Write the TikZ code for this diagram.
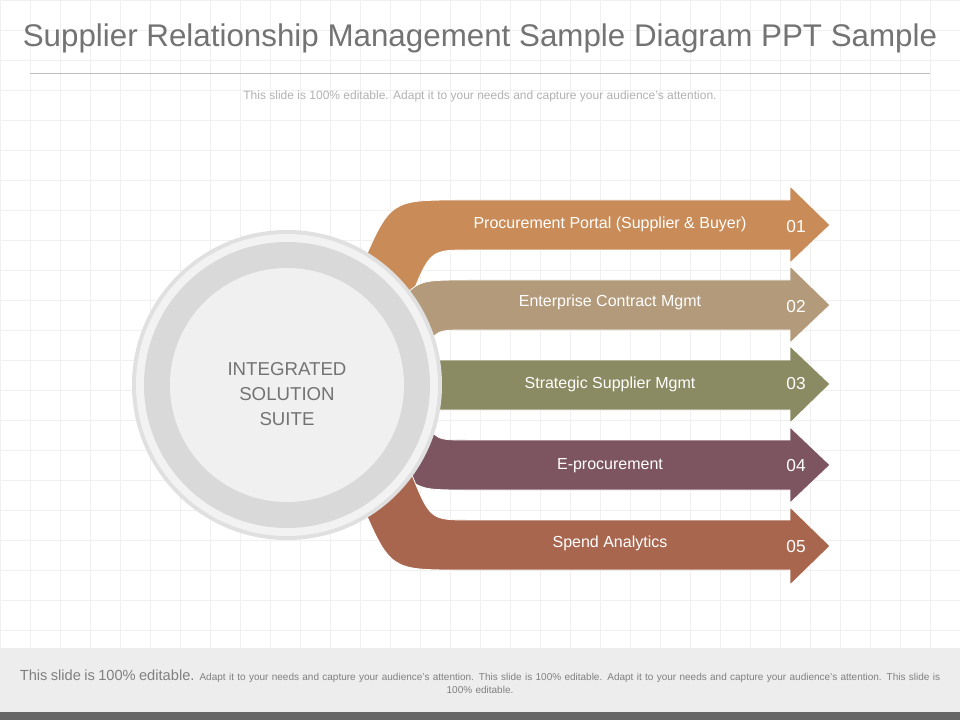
\documentclass[tikz,border=0pt]{standalone}
\usepackage{fontspec}
\setmainfont{Liberation Sans}
\usetikzlibrary{positioning}
\definecolor{bandA}{HTML}{C98B57}
\definecolor{bandB}{HTML}{B39A7A}
\definecolor{bandC}{HTML}{8B8B63}
\definecolor{bandD}{HTML}{7D5560}
\definecolor{bandE}{HTML}{A9664F}
\begin{document}
\begin{tikzpicture}[x=0.75pt,y=-0.75pt]
\tikzstyle{band} = [draw=white, line width=0.6pt]
\tikzstyle{label} = [text=white, font=\fontsize{12}{14}\selectfont]
\tikzstyle{num} = [text=white, font=\fontsize{13}{15}\selectfont]
\useasboundingbox (0,0) rectangle (960,720);
\fill[white] (0,0) rectangle (960,720);
\foreach \gx in {0,30,...,960} \draw[black!6] (\gx,0) -- (\gx,648);
\foreach \gy in {0,30,...,630} \draw[black!6] (0,\gy) -- (960,\gy);

% Heading
\node [text=black!55, font=\fontsize{23.5}{27}\selectfont] (title) at (480,38) {Supplier Relationship Management Sample Diagram PPT Sample};
\draw [black!25] (30,73) -- (930,73);
\node [text=black!30, font=\fontsize{9}{11}\selectfont] (sub) at (480,96) {This slide is 100\% editable. Adapt it to your needs and capture your audience's attention.};

% Bands
\fill[band, fill=bandA] (360,270) .. controls (390,200) .. (460,200) -- (790,200) -- (790,186) -- (830,225) -- (790,263) -- (790,250) -- (470,250) .. controls (430,250) .. (410,300) -- cycle;
\fill[band, fill=bandB] (400,300) .. controls (420,280) .. (470,280) -- (790,280) -- (790,266) -- (830,305) -- (790,343) -- (790,330) -- (470,330) .. controls (440,330) .. (430,340) -- cycle;
\fill[band, fill=bandC] (420,360) -- (790,360) -- (790,346) -- (830,384) -- (790,423) -- (790,410) -- (420,410) -- cycle;
\fill[band, fill=bandD] (430,430) .. controls (440,440) .. (470,440) -- (790,440) -- (790,427) -- (830,465) -- (790,503) -- (790,490) -- (470,490) .. controls (420,490) .. (400,470) -- cycle;
\fill[band, fill=bandE] (410,470) .. controls (430,520) .. (470,520) -- (790,520) -- (790,507) -- (830,546) -- (790,585) -- (790,570) -- (460,570) .. controls (390,570) .. (360,500) -- cycle;

% Circles
\fill[black!12] (287,385) circle (155);
\fill[black!5] (287,385) circle (151);
\fill[black!15] (287,385) circle (143);
\fill[black!6] (287,385) circle (117);
\node [text=black!55, align=center, font=\fontsize{14}{19}\selectfont] (core) at (287,394) {INTEGRATED\\SOLUTION\\SUITE};

% Labels
\node [label] (l1) at (610,224) {Procurement Portal (Supplier \& Buyer)};
\node [label] (l2) at (610,302) {Enterprise Contract Mgmt};
\node [label] (l3) at (610,384) {Strategic Supplier Mgmt};
\node [label] (l4) at (610,466) {E-procurement};
\node [label] (l5) at (610,543) {Spend Analytics};
\node [num] (n1) at (796,227) {01};
\node [num] (n2) at (796,307) {02};
\node [num] (n3) at (796,384) {03};
\node [num] (n4) at (796,466) {04};
\node [num] (n5) at (796,547) {05};

% Footer
\fill[black!7] (0,648) rectangle (960,712);
\fill[black!60] (0,712) rectangle (960,720);
\node [text=black!50, align=center, text width=945pt*0.75, font=\fontsize{7.5}{10}\selectfont] (foot) at (480,682) {{\fontsize{11}{12}\selectfont This slide is 100\% editable.} Adapt it to your needs and capture your audience's attention. This slide is 100\% editable. Adapt it to your needs and capture your audience's attention. This slide is 100\% editable.};
\end{tikzpicture}
\end{document}
